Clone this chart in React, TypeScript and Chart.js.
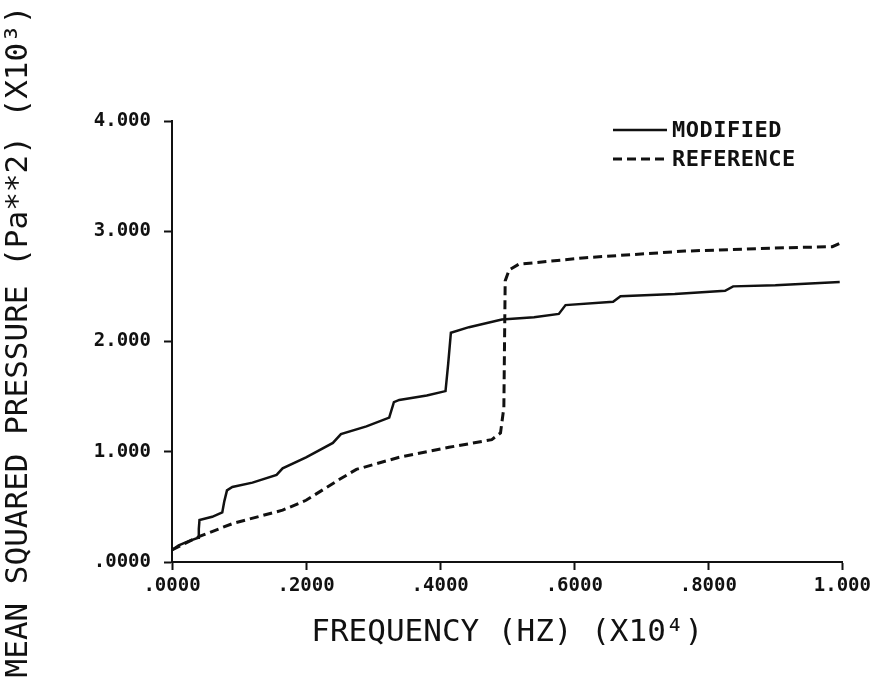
import React, { useEffect, useRef } from "react";
import { Chart, registerables } from "chart.js";

Chart.register(...registerables);

// Frequency in units of 10^4 Hz, pressure in units of 10^3 Pa**2
const modifiedX = [0, 0.010, 0.025, 0.039, 0.040, 0.041, 0.060, 0.075, 0.078, 0.082, 0.090, 0.120, 0.156, 0.165, 0.200, 0.240, 0.252, 0.290, 0.324, 0.331, 0.339, 0.380, 0.408, 0.412, 0.416, 0.443, 0.492, 0.540, 0.577, 0.587, 0.658, 0.669, 0.750, 0.825, 0.837, 0.900, 0.996];
const modifiedY = [0.11, 0.15, 0.19, 0.22, 0.30, 0.38, 0.41, 0.45, 0.55, 0.65, 0.68, 0.72, 0.79, 0.85, 0.95, 1.08, 1.16, 1.23, 1.31, 1.45, 1.47, 1.51, 1.55, 1.80, 2.08, 2.13, 2.20, 2.22, 2.25, 2.33, 2.36, 2.41, 2.43, 2.46, 2.50, 2.51, 2.54];

const referenceX = [0, 0.040, 0.091, 0.165, 0.200, 0.250, 0.275, 0.339, 0.413, 0.477, 0.490, 0.495, 0.497, 0.503, 0.517, 0.617, 0.765, 0.914, 0.985, 0.996];
const referenceY = [0.11, 0.23, 0.35, 0.47, 0.56, 0.75, 0.84, 0.95, 1.04, 1.11, 1.17, 1.40, 2.55, 2.65, 2.70, 2.76, 2.82, 2.85, 2.86, 2.89];

const xTickValues = [0, 0.2, 0.4, 0.6, 0.8, 1.0];
const xTickLabels = [".0000", ".2000", ".4000", ".6000", ".8000", "1.000"];
const yTickValues = [0, 1, 2, 3, 4];
const yTickLabels = [".0000", "1.000", "2.000", "3.000", "4.000"];

const seriesNames = ["MODIFIED", "REFERENCE"];
const xTitle = "FREQUENCY (HZ) (X10\u2074)";
const yTitle = "MEAN SQUARED PRESSURE (Pa**2) (X10\u00B3)";

const FONT = "'DejaVu Sans Mono', monospace";

const legendPlugin = {
  id: "plotLegend",
  afterDraw(chart: any) {
    const ctx = chart.ctx;
    const items = [
      { name: seriesNames[0], dash: [] as number[], y: 130 },
      { name: seriesNames[1], dash: [9, 5], y: 159 },
    ];
    ctx.save();
    items.forEach((it) => {
      ctx.beginPath();
      ctx.setLineDash(it.dash);
      ctx.lineWidth = it.dash.length ? 3 : 2.5;
      ctx.strokeStyle = "#111";
      ctx.moveTo(613, it.y);
      ctx.lineTo(667, it.y);
      ctx.stroke();
      ctx.setLineDash([]);
      ctx.fillStyle = "#111";
      ctx.font = "bold 22px " + FONT;
      ctx.textBaseline = "middle";
      ctx.textAlign = "left";
      try { (ctx as any).letterSpacing = "0.5px"; } catch (e) {}
      ctx.fillText(it.name, 672, it.y + 1);
      try { (ctx as any).letterSpacing = "0px"; } catch (e) {}
    });
    ctx.restore();
  },
};

export default function App() {
  const ref = useRef<HTMLCanvasElement>(null);
  useEffect(() => {
    const canvas = ref.current!;
    const chart = new Chart(canvas, {
      type: "scatter",
      data: {
        datasets: [
          {
            label: seriesNames[0],
            data: modifiedX.map((x, i) => ({ x, y: modifiedY[i] })),
            showLine: true,
            borderColor: "#111",
            borderWidth: 2.5,
            pointRadius: 0,
            tension: 0,
          },
          {
            label: seriesNames[1],
            data: referenceX.map((x, i) => ({ x, y: referenceY[i] })),
            showLine: true,
            borderColor: "#111",
            borderWidth: 3,
            borderDash: [9, 5],
            pointRadius: 0,
            tension: 0,
          },
        ],
      },
      options: {
        responsive: false,
        animation: false,
        layout: { padding: { left: 0, right: 31, top: 121, bottom: 0 } },
        plugins: { legend: { display: false }, tooltip: { enabled: false } },
        scales: {
          x: {
            type: "linear",
            min: 0,
            max: 1,
            afterBuildTicks: (s: any) => {
              s.ticks = xTickValues.map((v) => ({ value: v }));
            },
            afterFit: (s: any) => {
              s.height = 124;
            },
            ticks: {
              callback: (v: any) => {
                const i = xTickValues.findIndex((t) => Math.abs(t - v) < 1e-6);
                return i >= 0 ? xTickLabels[i] : "";
              },
              color: "#111",
              font: { family: FONT, size: 19, weight: "bold" },
              padding: 5,
              maxRotation: 0,
              autoSkip: false,
            },
            grid: {
              drawOnChartArea: false,
              drawTicks: true,
              tickLength: 8,
              color: "#111",
              tickWidth: 2,
            },
            border: { display: true, color: "#111", width: 2 },
            title: {
              display: true,
              text: xTitle,
              color: "#111",
              font: { family: FONT, size: 31 },
              padding: { top: 0, bottom: 34 },
            },
          },
          y: {
            type: "linear",
            min: 0,
            max: 4,
            afterBuildTicks: (s: any) => {
              s.ticks = yTickValues.map((v) => ({ value: v }));
            },
            afterFit: (s: any) => {
              s.width = 172;
            },
            ticks: {
              callback: (v: any) => {
                const i = yTickValues.findIndex((t) => Math.abs(t - v) < 1e-6);
                return i >= 0 ? yTickLabels[i] : "";
              },
              color: "#111",
              font: { family: FONT, size: 19, weight: "bold" },
              padding: 13,
            },
            grid: {
              drawOnChartArea: false,
              drawTicks: true,
              tickLength: 8,
              color: "#111",
              tickWidth: 2,
            },
            border: { display: true, color: "#111", width: 2 },
            title: {
              display: true,
              text: yTitle,
              color: "#111",
              font: { family: FONT, size: 31 },
              padding: { top: 0, bottom: 0 },
            },
          },
        },
      },
      plugins: [legendPlugin],
    });
    return () => chart.destroy();
  }, []);
  return (
    <div style={{ position: "absolute", left: 0, top: 0, width: 876, height: 686, background: "#fff" }}>
      <canvas ref={ref} width={876} height={686} style={{ display: "block" }} />
    </div>
  );
}
